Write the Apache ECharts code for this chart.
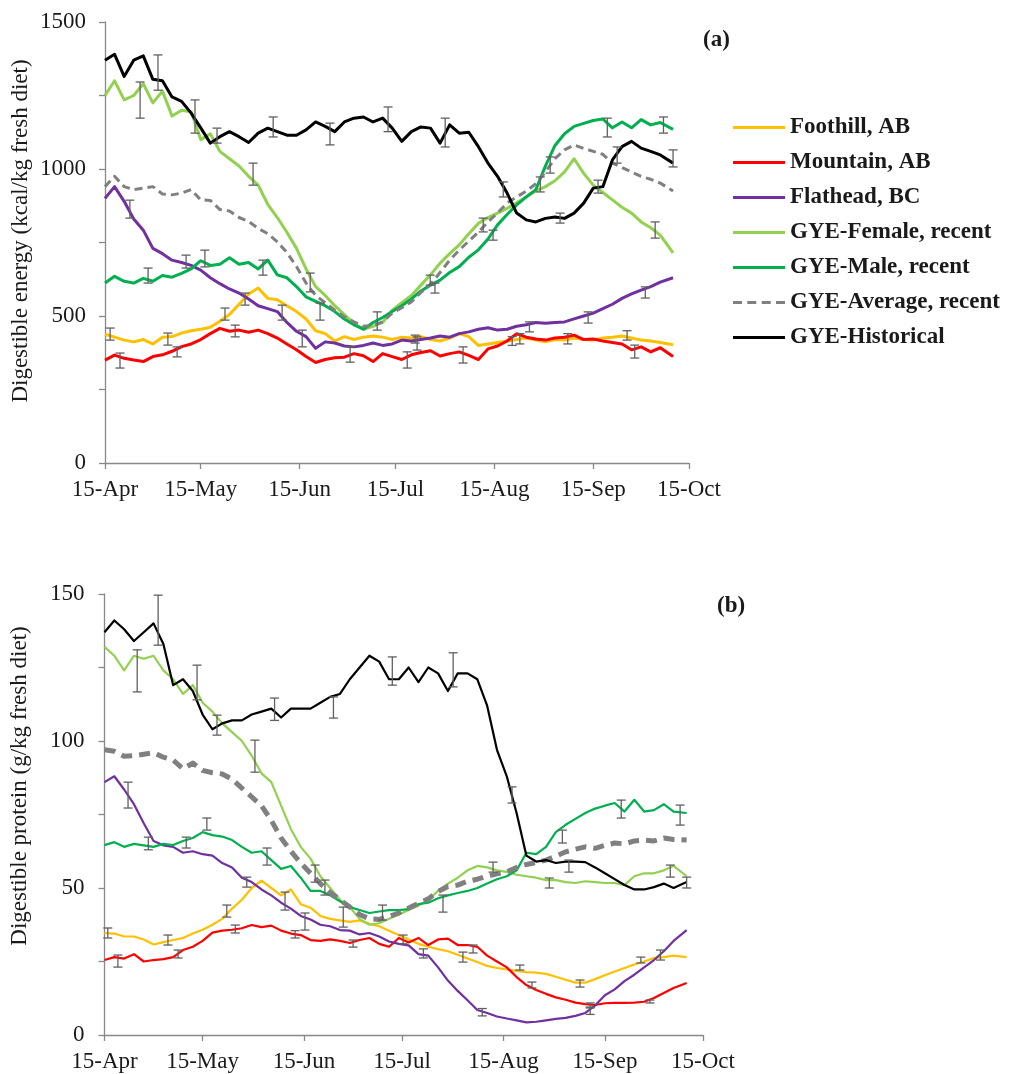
<!DOCTYPE html>
<html><head><meta charset="utf-8">
<script src="https://cdn.jsdelivr.net/npm/echarts@6/dist/echarts.min.js"></script>
<style>html,body{margin:0;padding:0;background:#fff}#c{width:1009px;height:1074px}</style>
</head><body><div id="c"></div>
<script>
// Days after 15-Apr
const days = [0,3,6,9,12,15,18,21,24,27,30,33,36,39,42,45,48,51,54,57,60,63,66,69,72,75,78,81,84,87,
  90,93,96,99,102,105,108,111,114,117,120,123,126,129,132,135,138,141,144,147,150,153,156,159,162,165,168,171,174,178];
const tickDays = [0,30,61,91,122,153,183];
const tickLabels = ['15-Apr','15-May','15-Jun','15-Jul','15-Aug','15-Sep','15-Oct'];
const seriesNames = ['Foothill, AB','Mountain, AB','Flathead, BC','GYE-Female, recent','GYE-Male, recent','GYE-Average, recent','GYE-Historical'];

// (a) Digestible energy (kcal/kg fresh diet)
const foothillE = [438,428,418,412,420,405,428,430,442,450, 455,462,482,505,540,575,595,560,555,535,
  515,490,450,440,415,430,420,428,432,428, 420,428,425,430,420,415,425,440,430,400,
  405,410,415,420,425,418,412,420,418,425, 420,418,425,428,432,425,418,415,410,402];
const mountainE = [350,367,356,350,345,362,368,380,396,405, 420,440,458,448,452,445,452,440,425,405,
  385,362,342,352,358,360,372,365,345,372, 362,352,368,376,382,364,372,378,366,352,
  388,398,415,440,428,422,418,425,428,435, 420,422,415,410,405,385,395,378,392,362];
const flatheadE = [900,940,890,830,792,730,712,690,682,672, 656,630,610,592,578,558,535,525,515,478,
  448,430,390,412,408,398,395,400,408,400, 405,418,415,420,425,432,428,440,446,455,
  460,452,455,465,470,478,475,478,480,490, 500,510,525,540,560,575,588,600,615,630];
const femaleE = [1250,1300,1235,1250,1290,1225,1265,1180,1200,1195, 1100,1120,1060,1035,1010,975,945,880,835,785,
  730,660,600,570,535,505,475,455,465,478, 520,545,570,605,640,680,712,742,780,815,
  835,850,866,885,905,925,940,960,990,1035, 985,945,920,895,870,850,820,800,775,715];
const maleE = [612,635,618,612,628,618,638,632,645,660, 688,672,676,698,676,682,660,690,640,630,
  600,565,550,535,515,490,470,455,478,495, 515,535,558,585,605,622,648,668,700,725,
  762,810,845,878,905,930,1010,1080,1120,1145, 1155,1165,1170,1140,1160,1140,1168,1150,1158,1135];
const averageE = [940,975,940,930,935,940,915,912,918,930, 895,893,862,857,835,822,798,780,752,716,
  668,612,570,545,520,497,480,465,468,480, 510,528,548,580,608,648,690,724,755,785,
  820,850,885,905,925,950,990,1035,1065,1082, 1070,1060,1050,1020,1005,990,975,965,952,925];
const historicalE = [1370,1390,1315,1370,1385,1305,1300,1245,1230,1190, 1140,1088,1110,1127,1110,1090,1122,1139,1127,1115,
  1115,1133,1160,1145,1127,1160,1173,1177,1160,1173, 1139,1094,1127,1143,1139,1088,1150,1122,1125,1076,
  1020,975,918,850,827,820,832,837,832,850, 884,935,940,1031,1076,1094,1071,1060,1048,1020];
// error bars: [day, low, high]
const errorE = [[16.6,1268,1388],[28.2,1122,1235],[35.1,1088,1139],[52.7,1109,1177],[70.5,1082,1156],[88.7,1127,1211],
  [106.6,1075,1173],[124.8,905,956],[142.6,816,850],[160.5,1020,1075],[178,1007,1065],
  [11,1173,1296],[46.4,945,1020],[64.3,582,646],[85.3,452,514],[101.9,605,639],[118.5,786,833],[136.4,922,973],[154.5,918,962],[172.4,765,820],
  [13.5,612,663],[31.3,667,724],[49.5,639,690],[67.4,486,544],[103.4,578,612],[121.6,758,792],[139.5,986,1041],[157.4,1109,1173],[175,1122,1177],
  [7.8,833,894],[25.4,663,707],[43.9,537,578],[61.8,395,452],[97.2,408,435],[133,446,480],[151.4,476,514],[169.3,561,599],
  [1.6,418,459],[19.7,401,442],[37.6,486,527],[55.5,486,537],[97.8,384,429],[127.6,400,430],[145,405,440],[163.6,418,450],
  [4.7,323,374],[22.6,361,395],[40.8,429,469],[76.8,343,395],[94.7,323,378],[112.2,340,395],[130,405,440],[166,357,401]];

// (b) Digestible protein (g/kg fresh diet)
const foothillP = [34.7,34.5,33.5,33.5,32.5,30.8,31.6,32.3,33,34.5, 35.8,37.5,39.5,43,46,50,52.5,50,47.5,49.5,
  44.5,43.3,40.5,39.5,39,38.5,39,37.8,37,35.5, 34,32.5,31,30,29.2,28.5,27.3,26,24.8,23.5,
  22.8,22.3,21.8,21.4,21.2,20.8,19.8,18.8,17.8,17.8, 19,20.3,21.6,22.8,24,25,26.2,26.5,27,26.5];
const mountainP = [25.5,26.5,26,27.5,25,25.5,25.8,26.5,28.9,30, 32,34.8,35.5,35.8,36.3,37.4,36.7,37.2,35.5,34.5,
  34,32.3,32,32.5,32,31.3,32.3,33,31,30, 33,31.5,33,30.6,32.5,32.8,30.6,30.6,30,27,
  25,23,19.7,17,15.3,14,12.8,12,11,10.5, 10.2,10.8,10.9,10.9,11,11.3,12.6,14.3,16,17.7];
const flatheadP = [86,88,83.5,78.5,72,66,64.5,64,62,62.5, 61.5,61,58.5,57,53.5,52,49.5,47.5,45,43,
  40.5,39.3,37.5,37,35.7,35.5,34.2,34.7,33.5,31.8, 31,30.5,27.5,27,23,18.5,15,11.8,8.5,7.5,
  6.3,5.6,5,4.3,4.5,5,5.5,5.8,6.5,7.5, 10,13.5,15.5,18.3,20.5,23,25.5,28.5,32,35.7];
const femaleP = [132,129,124,129,128,129,124,121,116,119, 113,110,106,103,100,95,89,86,78,70,
  64,60,54,50,46,43.5,39.5,37.5,38,39.5, 41,42.5,44,46,49,51.5,53.5,56,57.5,57,
  56,55.5,54.5,54,53.5,52.7,52.7,52,51.7,52.3, 52,51.7,51.7,51,54,55,55,56,57.5,54];
const maleP = [64.6,65.6,64,65,64.5,64,65,64.6,66,67, 69,68,67.5,66.3,64,62,62.5,59.5,56.5,57.5,
  53.5,49,49,47.5,45.5,43.5,42.5,41.5,42,42.5, 42.5,42.8,44.5,45,46.5,47.5,48.3,49,50,51.5,
  53,54,56,62,61.5,64,69,71.5,73.5,75.5, 77,78,78.9,76,80,76,76.5,78.5,76,75.5];
const averageP = [97,96.5,94.8,95,95.5,96,94.5,93.5,90.5,92.5, 90,89.2,88.8,87,84,81,78,73,67,62.5,
  58.5,55,51.5,48.5,46,43.5,41,39.5,39.3,40.3, 41.5,43.2,44.8,46.3,48.8,50.5,51,52.3,53,54,
  54.8,55.5,57,58,58.7,59.5,60.8,62.3,63.2,64, 63.5,64.5,65.3,65,66,66.3,66,67,66.5,66.3];
const historicalP = [137,141,138,134,137,140,133,119,121,117, 109,104,106,107,107,109,110,111,108,111,
  111,111,113,115,116,121,125,129,127,121, 121,125,120,125,123,117,123,123,121,112,
  97,88,75.5,61,59,59.5,58.5,59,59,58.8, 57,55,53,51,49.5,49.5,50.3,51.5,50,52];
const errorP = [[16.4,132.6,149.6],[28.3,114,125.8],[34.4,102,108.8],[52,107,114.6],[70,107.8,115],[88,119,128.6],
  [106.6,118.4,130],[124.6,78.9,84.4],[142,55.4,59.5],[178,50,53.7],
  [10,116.7,131],[46,89.4,100.3],[64.4,52,57.8],[118.8,55.4,58.8],[136,50,53.4],[173,53.7,57.8],
  [13.4,63,67.3],[31.3,69.7,73.8],[49.7,57.8,63.6],[67.4,47.6,52.7],[85,39.1,44.2],[103.5,41.8,47.6],[140,65.3,69.7],[158,73.8,79.9],[176,71.4,78.2],
  [7.2,77.2,86],[25,63.6,67.3],[43.5,50.3,53.7],[61.3,35.7,41.5],[97.5,26.2,29.3],[115.5,6.5,9],[148.5,7,9.5],[170,25.5,28.9],
  [1,33,36.4],[19.4,30.6,34],[37.4,40.1,44.2],[55.2,42.5,48.6],[73,36.7,43.5],[109.6,24.8,28.2],[127,22.1,23.8],[145.4,16.3,18.7],[164,24.5,26.5],
  [4.1,23.1,27.2],[22.5,26.2,28.9],[40,34.7,37.4],[58.3,33,35.5],[76,29.9,32.3],[91.3,31,34],[112.7,27.9,30.6],[130.7,16,18],[148.5,9.2,10.9],[166.8,10.9,11.9]];

const colors = ['#FFC000','#FF0000','#7030A0','#92D050','#00B050','#808080','#000000'];
const SERIF = '"Liberation Serif","Times New Roman",serif';
const solidIcon = 'path://M0,0H52V3H0Z';
const dashIcon = 'path://M0,0H9V3H0Z M14.3,0H23.3V3H14.3Z M28.7,0H37.7V3H28.7Z M43,0H52V3H43Z';

const chart = echarts.init(document.getElementById('c'), null, {renderer:'canvas'});

function pairs(vals){ return days.map((d,i)=>[d, vals[i]]); }

function lineSeries(name, vals, idx, ax, width, dash){
  return {
    type:'line', name: name, xAxisIndex: ax, yAxisIndex: ax,
    data: pairs(vals), symbol:'none', showSymbol:false, smooth:false,
    lineStyle:{color: colors[idx], width: width, type: dash || 'solid', join:'round'},
    itemStyle:{color: colors[idx]},
    emphasis:{disabled:true}, z: 2 + idx
  };
}

function renderErr(params, api){
  const x = api.value(0), lo = api.value(1), hi = api.value(2);
  const p1 = api.coord([x, lo]), p2 = api.coord([x, hi]);
  const w = 4.5;
  const st = {stroke:'#606060', lineWidth:1.3};
  return {type:'group', children:[
    {type:'line', shape:{x1:p1[0], y1:p1[1], x2:p2[0], y2:p2[1]}, style:st},
    {type:'line', shape:{x1:p1[0]-w, y1:p1[1], x2:p1[0]+w, y2:p1[1]}, style:st},
    {type:'line', shape:{x1:p2[0]-w, y1:p2[1], x2:p2[0]+w, y2:p2[1]}, style:st}
  ]};
}

function xAxisDef(gi){
  return {
    type:'value', gridIndex: gi, min:0, max:183,
    axisLine:{show:true, lineStyle:{color:'#898989', width:1.3}},
    axisTick:{show:true, customValues: tickDays, length:6, inside:false, lineStyle:{color:'#898989', width:1.3}},
    axisLabel:{show:true, customValues: tickDays, margin:15, color:'#1a1a1a', fontFamily:SERIF, fontSize:23,
      formatter: v => { const k = tickDays.indexOf(Math.round(v)); return k >= 0 ? tickLabels[k] : ''; }},
    splitLine:{show:false}
  };
}
function yAxisDef(gi, max, interval, labelStep, margin){
  return {
    type:'value', gridIndex: gi, min:0, max:max, interval:interval,
    axisLine:{show:true, lineStyle:{color:'#898989', width:1.3}},
    axisTick:{show:true, length:6, inside:false, lineStyle:{color:'#898989', width:1.3}},
    axisLabel:{show:true, margin:margin, color:'#1a1a1a', fontFamily:SERIF, fontSize:23,
      formatter: v => (Math.round(v) % labelStep === 0 ? String(v) : '')},
    splitLine:{show:false}
  };
}

const series = [
  lineSeries(seriesNames[0], foothillE, 0, 0, 3),
  lineSeries(seriesNames[1], mountainE, 1, 0, 3),
  lineSeries(seriesNames[2], flatheadE, 2, 0, 3),
  lineSeries(seriesNames[3], femaleE, 3, 0, 3),
  lineSeries(seriesNames[4], maleE, 4, 0, 3),
  lineSeries(seriesNames[5], averageE, 5, 0, 3, [8,5]),
  lineSeries(seriesNames[6], historicalE, 6, 0, 3),
  {type:'custom', name:'errE', xAxisIndex:0, yAxisIndex:0, renderItem: renderErr, data: errorE, encode:{x:0, y:[1,2]}, z:20, silent:true},
  lineSeries(seriesNames[0], foothillP, 0, 1, 2.2),
  lineSeries(seriesNames[1], mountainP, 1, 1, 2.2),
  lineSeries(seriesNames[2], flatheadP, 2, 1, 2.2),
  lineSeries(seriesNames[3], femaleP, 3, 1, 2.2),
  lineSeries(seriesNames[4], maleP, 4, 1, 2.2),
  lineSeries(seriesNames[5], averageP, 5, 1, 5, [11,7]),
  lineSeries(seriesNames[6], historicalP, 6, 1, 2.2),
  {type:'custom', name:'errP', xAxisIndex:1, yAxisIndex:1, renderItem: renderErr, data: errorP, encode:{x:0, y:[1,2]}, z:20, silent:true}
];

chart.setOption({
  animation:false,
  backgroundColor:'#ffffff',
  grid:[
    {left:105, top:22, width:584, height:441, containLabel:false},
    {left:104.5, top:594, width:598.5, height:441, containLabel:false}
  ],
  xAxis:[xAxisDef(0), xAxisDef(1)],
  yAxis:[yAxisDef(0, 1500, 250, 500, 19), yAxisDef(1, 150, 25, 50, 20)],
  legend:{
    show:true, orient:'vertical', left:733, top:116, padding:0,
    data: seriesNames.map((n,i)=>({name:n, icon: i===5 ? dashIcon : solidIcon})),
    itemWidth:52, itemHeight:3, itemGap:12, selectedMode:false, symbolKeepAspect:false,
    textStyle:{fontFamily:SERIF, fontWeight:'bold', fontSize:23, color:'#1a1a1a', lineHeight:23}
  },
  graphic:[
    {type:'text', x:21, y:231, rotation:Math.PI/2, style:{text:'Digestible energy (kcal/kg fresh diet)', font:'23px '+SERIF, fill:'#1a1a1a', textAlign:'center', textVerticalAlign:'middle'}},
    {type:'text', x:20, y:786, rotation:Math.PI/2, style:{text:'Digestible protein (g/kg fresh diet)', font:'23px '+SERIF, fill:'#1a1a1a', textAlign:'center', textVerticalAlign:'middle'}},
    {type:'text', x:703, y:40, style:{text:'(a)', font:'bold 23px '+SERIF, fill:'#1a1a1a', textAlign:'left', textVerticalAlign:'middle'}},
    {type:'text', x:717, y:606, style:{text:'(b)', font:'bold 23px '+SERIF, fill:'#1a1a1a', textAlign:'left', textVerticalAlign:'middle'}}
  ],
  series: series
});
</script>
</body></html>
